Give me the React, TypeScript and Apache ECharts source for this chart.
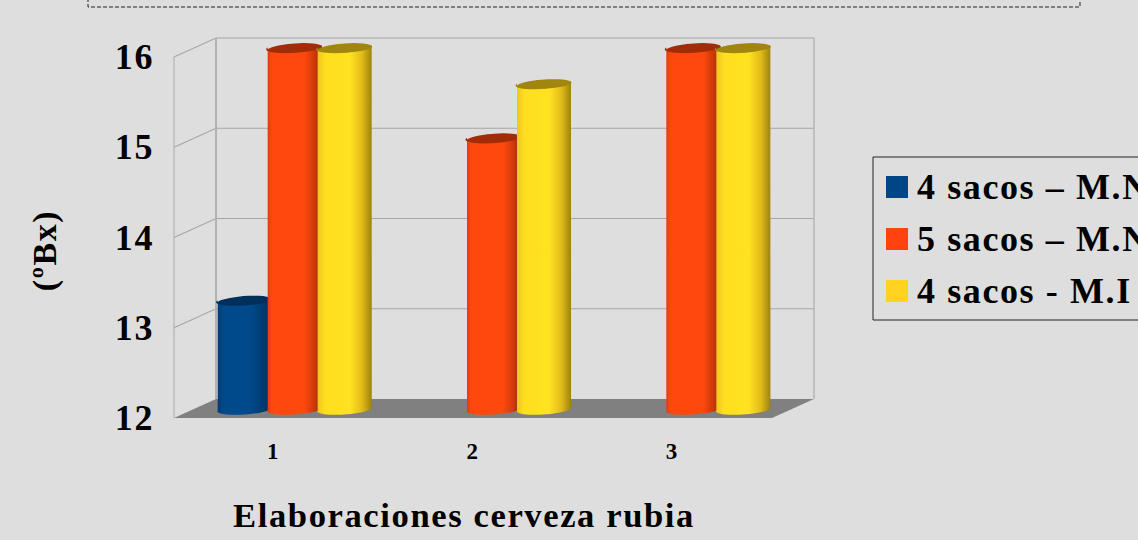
import React, { useEffect, useRef } from "react";
import * as echarts from "echarts";

const categories = ["1", "2", "3"];
const yTicks = [12, 13, 14, 15, 16];
const seriesNames = ["4 sacos – M.N", "5 sacos – M.N", "4 sacos - M.I"];
const cuatroSacosMN: (number | null)[] = [13.2, null, null];
const cincoSacosMN: (number | null)[] = [16, 15, 16];
const cuatroSacosMI: (number | null)[] = [16, 15.6, 16];
const legendColors = ["#004586", "#ff420e", "#ffd320"];

const FONT = "Liberation Serif";
const DEPTH_X = 42;
const DEPTH_Y = 19;
const BAR_STEP = 50;
const BAR_R = 27;
const BAR_RY = 5;
const TILT = -4;

const palettes = [
  {
    top: "#002f5c",
    stops: [[0, "#003c75"], [0.12, "#004a8c"], [0.6, "#004a8c"], [0.85, "#003b70"], [1, "#002a52"]],
  },
  {
    top: "#a02c08",
    stops: [[0, "#e23a0c"], [0.08, "#ff480e"], [0.68, "#ff480e"], [0.85, "#d03a0c"], [1, "#9c2c08"]],
  },
  {
    top: "#a0860e",
    stops: [[0, "#eec41e"], [0.15, "#ffdf20"], [0.6, "#ffe220"], [0.82, "#e2bc1a"], [1, "#9c8210"]],
  },
];

function cylinderItem(seriesIndex: number) {
  return (_params: any, api: any) => {
    const v = api.value(1);
    if (v === null || v === undefined || isNaN(v)) return null;
    const i = api.value(0);
    const topPt = api.coord([i, v]);
    const basePt = api.coord([i, yTicks[0]]);
    const cx = topPt[0] + DEPTH_X / 2 + (seriesIndex - 1) * BAR_STEP;
    const yt = topPt[1] - DEPTH_Y / 2;
    const yb = basePt[1] - DEPTH_Y / 2;
    const t = 2;
    const xl = cx - BAR_R;
    const xr = cx + BAR_R;
    const arc = `A ${BAR_R} ${BAR_RY} ${TILT} 1 `;
    const body = `M ${xl} ${yt + t} L ${xl} ${yb + t} A ${BAR_R} ${BAR_RY} ${TILT} 0 0 ${xr} ${yb - t} L ${xr} ${yt - t} Z`;
    const top = `M ${xl} ${yt + t} ${arc}1 ${xr} ${yt - t} ${arc}1 ${xl} ${yt + t} Z`;
    const p = palettes[seriesIndex];
    return {
      type: "group",
      children: [
        {
          type: "path",
          shape: { pathData: body },
          style: {
            fill: new echarts.graphic.LinearGradient(0, 0, 1, 0,
              p.stops.map(([offset, color]) => ({ offset: offset as number, color: color as string }))),
          },
        },
        {
          type: "path",
          shape: { pathData: top },
          style: { fill: p.top },
        },
      ],
    };
  };
}

function wallLines(params: any, api: any) {
  const v = api.value(0);
  const y = api.coord([0, v])[1];
  const left = params.coordSys.x;
  const width = params.coordSys.width;
  const stroke = "#a6a6a6";
  if (v === yTicks[0]) return null;
  return {
    type: "polyline",
    shape: { points: [[left, y], [left + DEPTH_X, y - DEPTH_Y], [left + DEPTH_X + width, y - DEPTH_Y]] },
    style: { stroke, fill: "none", lineWidth: 1.2 },
  };
}

function frame(params: any, api: any) {
  const { x, y, width, height } = params.coordSys;
  const bottom = y + height;
  const line = (x1: number, y1: number, x2: number, y2: number, lw: number) => ({
    type: "line",
    shape: { x1, y1, x2, y2 },
    style: { stroke: "#b2b2b2", lineWidth: lw },
  });
  return {
    type: "group",
    children: [
      line(x, y, x, bottom, 1.2),
      line(x + DEPTH_X, y - DEPTH_Y, x + DEPTH_X, bottom - DEPTH_Y, 2),
      line(x + DEPTH_X + width, y - DEPTH_Y, x + DEPTH_X + width, bottom - DEPTH_Y, 1.4),
      {
        type: "polygon",
        shape: {
          points: [[x, bottom], [x + DEPTH_X, bottom - DEPTH_Y], [x + DEPTH_X + width, bottom - DEPTH_Y], [x + width, bottom]],
        },
        style: { fill: "#808080" },
      },
    ],
  };
}

const toData = (values: (number | null)[]) => values.map((v, i) => [i, v]);

export default function App() {
  const ref = useRef<HTMLDivElement>(null);
  useEffect(() => {
    document.body.style.margin = "0";
    const chart = echarts.init(ref.current!, null, { renderer: "svg" });
    const allValues = [cuatroSacosMN, cincoSacosMN, cuatroSacosMI];
    chart.setOption({
      animation: false,
      backgroundColor: "#dedede",
      textStyle: { fontFamily: FONT },
      grid: { left: 174, top: 57, width: 598, height: 361, outerBoundsMode: "none" },
      xAxis: {
        type: "category",
        data: categories,
        axisLine: { show: false },
        axisTick: { show: false },
        axisLabel: { color: "#000", fontFamily: FONT, fontWeight: "bold", fontSize: 23, margin: 22 },
        name: "Elaboraciones cerveza rubia",
        nameLocation: "middle",
        nameGap: 79,
        nameTextStyle: { color: "#000", fontFamily: FONT, fontWeight: "bold", fontSize: 34.6, padding: [0, 18, 0, 0] },
      },
      yAxis: {
        type: "value",
        min: 12,
        max: 16,
        interval: 1,
        splitLine: { show: false },
        axisLine: { show: false },
        axisTick: { show: false },
        axisLabel: { color: "#000", fontFamily: FONT, fontWeight: "bold", fontSize: 36, margin: 20 },
        name: "(ºBx)",
        nameLocation: "middle",
        nameGap: 113,
        nameTextStyle: { color: "#000", fontFamily: FONT, fontWeight: "bold", fontSize: 34, padding: [0, 26, 0, 0] },
      },
      legend: {
        orient: "vertical",
        left: 873,
        top: 157,
        padding: [10, 40, 9, 13],
        borderColor: "#222",
        borderWidth: 1,
        itemWidth: 22,
        itemHeight: 22,
        itemGap: 12,
        selectedMode: false,
        data: seriesNames.map((name, i) => ({ name, icon: "rect", itemStyle: { color: legendColors[i] } })),
        textStyle: { color: "#000", fontFamily: FONT, fontWeight: "bold", fontSize: 36, lineHeight: 40, padding: [0, 0, 0, 4] },
      },
      graphic: [
        {
          type: "rect",
          shape: { x: 88, y: -20, width: 992, height: 27 },
          style: { fill: "none", stroke: "#222", lineWidth: 1, lineDash: [4, 2] },
        },
      ],
      series: [
        { type: "custom", name: "paredes", silent: true, data: yTicks.map((v) => [v]), encode: { y: 0 }, renderItem: wallLines, z: 1 },
        { type: "custom", name: "marco", silent: true, data: [[yTicks[0]]], encode: { y: 0 }, renderItem: frame, z: 1 },
        ...seriesNames.map((name, i) => ({
          type: "custom",
          name,
          data: toData(allValues[i]),
          encode: { x: 0, y: 1 },
          itemStyle: { color: legendColors[i] },
          renderItem: cylinderItem(i),
          z: 2 + i,
        })),
      ],
    });
    return () => chart.dispose();
  }, []);
  return <div ref={ref} style={{ width: 1138, height: 540, letterSpacing: "1.6px", overflow: "hidden" }} />;
}
